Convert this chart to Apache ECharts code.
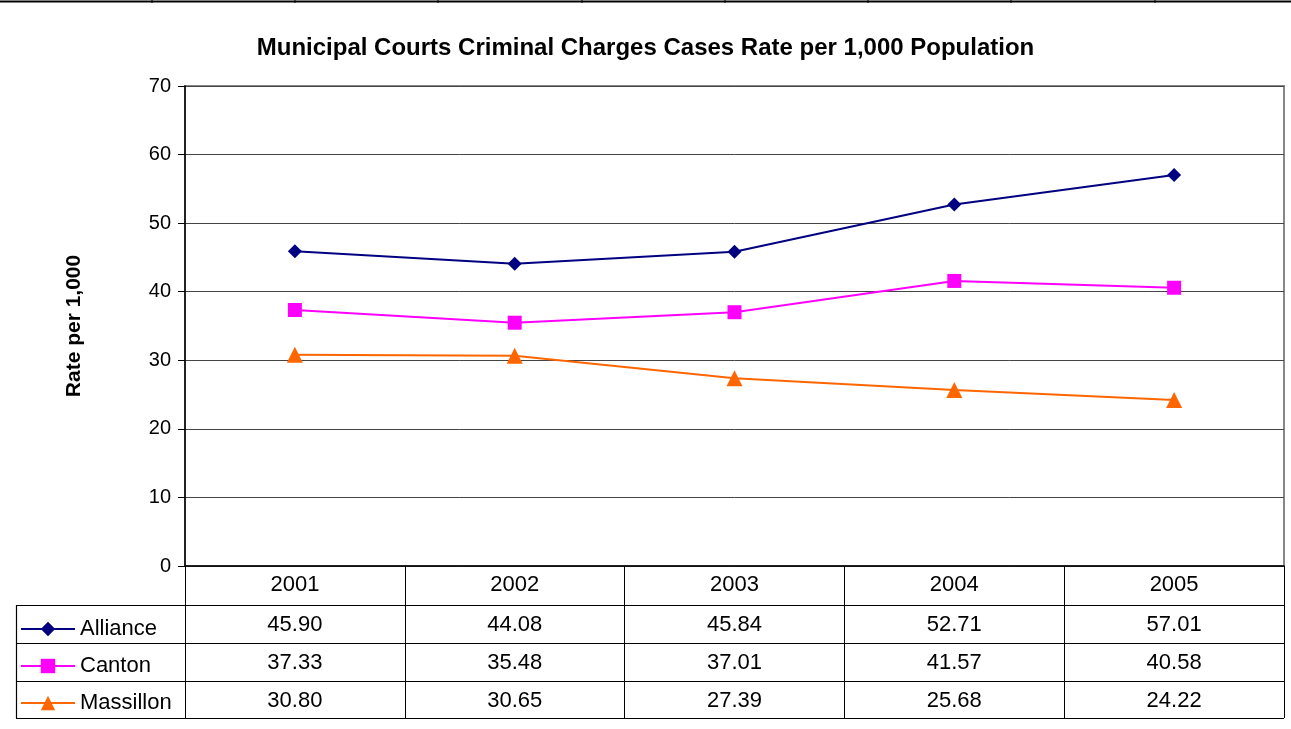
<!DOCTYPE html>
<html>
<head>
<meta charset="utf-8">
<script src="https://cdn.jsdelivr.net/npm/echarts@6/dist/echarts.min.js"></script>
<style>
html,body{margin:0;padding:0;background:#fff;}
#main{width:1291px;height:729px;}
</style>
</head>
<body>
<div id="main"></div>
<script>
var years = ['2001', '2002', '2003', '2004', '2005'];
var names = ['Alliance', 'Canton', 'Massillon'];
var alliance = [45.90, 44.08, 45.84, 52.71, 57.01];
var canton = [37.33, 35.48, 37.01, 41.57, 40.58];
var massillon = [30.80, 30.65, 27.39, 25.68, 24.22];
var yMin = 0, yMax = 70, yStep = 10;

var font = 'Arial, "Liberation Sans", sans-serif';
var colors = ['#000080', '#ff00ff', '#ff6600'];
var symbols = ['diamond', 'rect', 'triangle'];
var sizes = [14, 14, 16];
var values = [alliance, canton, massillon];

// table layout (pixels)
var tbl = {left: 16, axisY: 566, rowTops: [605, 643, 681], bottom: 718, right: 1284};

var myChart = echarts.init(document.getElementById('main'));

var series = [];
for (var i = 0; i < names.length; i++) {
    series.push({
        name: names[i],
        type: 'line',
        data: values[i],
        symbol: symbols[i],
        symbolSize: sizes[i],
        color: colors[i],
        lineStyle: {width: 2, color: colors[i]},
        itemStyle: {color: colors[i]},
        emphasis: {disabled: true},
        animation: false
    });
}

var option = {
    backgroundColor: '#fff',
    animation: false,
    title: {
        text: 'Municipal Courts Criminal Charges Cases Rate per 1,000 Population',
        left: 'center',
        top: 31,
        textStyle: {fontFamily: font, fontSize: 24, fontWeight: 'bold', color: '#000'}
    },
    legend: {
        orient: 'vertical',
        left: 15,
        top: 613,
        itemWidth: 54,
        itemHeight: 18,
        itemGap: 15,
        data: names,
        textStyle: {fontFamily: font, fontSize: 22, lineHeight: 22, color: '#000'},
        selectedMode: false
    },
    grid: {
        left: 185, right: 7, top: 86, bottom: 163,
        show: true, borderColor: '#888', borderWidth: 2,
        containLabel: false
    },
    xAxis: {
        type: 'category',
        data: years,
        boundaryGap: true,
        axisLine: {lineStyle: {color: '#000', width: 1.5}},
        axisTick: {show: true, length: tbl.bottom - tbl.axisY, lineStyle: {color: '#000', width: 1}},
        axisLabel: {fontFamily: font, fontSize: 22, color: '#000', margin: 8},
        splitLine: {show: false}
    },
    yAxis: {
        type: 'value',
        min: yMin, max: yMax, interval: yStep,
        name: 'Rate per 1,000',
        nameLocation: 'middle',
        nameRotate: 90,
        nameGap: 100,
        nameTextStyle: {fontFamily: font, fontSize: 21, fontWeight: 'bold', color: '#000'},
        axisLine: {show: true, lineStyle: {color: '#000', width: 1.5}},
        axisTick: {show: true, length: 7, lineStyle: {color: '#000'}},
        axisLabel: {fontFamily: font, fontSize: 20, color: '#000', margin: 14},
        splitLine: {lineStyle: {color: '#444', width: 1}}
    },
    series: series
};
myChart.setOption(option);

// data table below the plot
function buildTable() {
    var g = [];
    // top border of the sheet
    g.push({type: 'line', shape: {x1: 0, y1: 1.5, x2: 1291, y2: 1.5}, style: {stroke: '#000', lineWidth: 2}, silent: true});
    var sheetCols = [152, 295, 438, 582, 725, 868, 1011, 1155];
    sheetCols.forEach(function (x) {
        g.push({type: 'line', shape: {x1: x, y1: 0, x2: x, y2: 3}, style: {stroke: '#000', lineWidth: 1}, silent: true});
    });
    // horizontal rows
    var ys = tbl.rowTops.concat([tbl.bottom]);
    ys.forEach(function (y) {
        g.push({type: 'line', shape: {x1: tbl.left, y1: y + 0.5, x2: tbl.right, y2: y + 0.5}, style: {stroke: '#000', lineWidth: 1.2}, silent: true});
    });
    // legend column left border
    g.push({type: 'line', shape: {x1: tbl.left + 0.5, y1: tbl.rowTops[0], x2: tbl.left + 0.5, y2: tbl.bottom}, style: {stroke: '#000', lineWidth: 1.2}, silent: true});
    // values
    for (var s = 0; s < values.length; s++) {
        var top = tbl.rowTops[s];
        var bot = s + 1 < tbl.rowTops.length ? tbl.rowTops[s + 1] : tbl.bottom;
        var cy = (top + bot) / 2 + 1;
        for (var j = 0; j < years.length; j++) {
            var cx = myChart.convertToPixel({xAxisIndex: 0}, years[j]);
            g.push({
                type: 'text', silent: true,
                style: {
                    text: values[s][j].toFixed(2), x: cx, y: cy,
                    align: 'center', verticalAlign: 'middle',
                    textAlign: 'center', textVerticalAlign: 'middle',
                    font: '22px ' + font, fill: '#000'
                }
            });
        }
    }
    myChart.setOption({graphic: g});
}
buildTable();
</script>
</body>
</html>
